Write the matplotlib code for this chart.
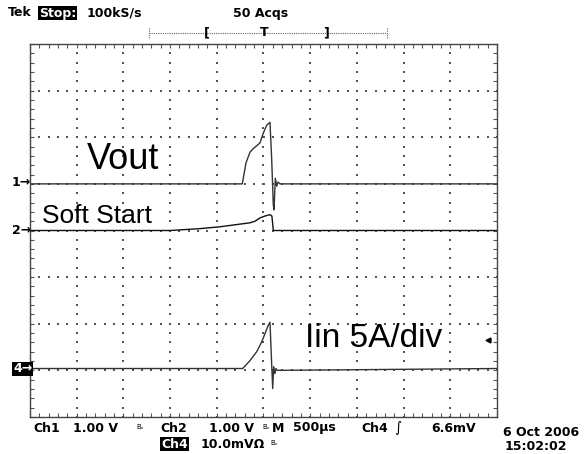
import numpy as np
import matplotlib
matplotlib.use("Agg")
import matplotlib.pyplot as plt

W, H = 587, 454

# traces, in screen divisions (x: -5..5, y: -4..4)
ch1_t = [-5, -0.454, -0.375, -0.289, -0.225, -0.075, -0.004, 0.069, 0.139, 0.176, 0.210, 0.225, 0.253, 0.283, 0.310, 0.353, 5]
ch1_v = [1.0, 1.0, 1.45, 1.68, 1.75, 1.88, 2.09, 2.26, 2.32, 1.51, 0.55, 0.44, 1.12, 0.95, 1.04, 1.0, 1.0]

ch2_t = [-5, -2.0, -1.36, -0.93, -0.29, -0.18, -0.075, 0.03, 0.14, 0.18, 0.21, 5]
ch2_v = [0.0, 0.0, 0.04, 0.08, 0.165, 0.20, 0.27, 0.31, 0.34, 0.31, 0.0, 0.0]

ch4_t = [-5, -0.445, -0.289, -0.146, -0.039, 0.032, 0.103, 0.139, 0.176, 0.197, 0.218, 0.246, 0.268, 0.296, 5]
ch4_v = [-2.96, -2.96, -2.79, -2.60, -2.39, -2.21, -2.03, -1.97, -2.89, -3.39, -2.92, -3.07, -2.96, -3.0, -2.96]

labels = ["Vout", "Soft Start", "Iin 5A/div"]
header_left = "100kS/s"
header_acq = "50 Acqs"
footer_1 = ["Ch1", "1.00 V", "Ch2", "1.00 V", "M", "500\u00b5s", "Ch4", "6.6mV"]
footer_2 = "10.0mV\u03a9"
date_txt = ["6 Oct 2006", "15:02:02"]

def P(x, y):
    return x / W, 1 - y / H

fig = plt.figure(figsize=(W / 100, H / 100), dpi=100)
fig.patch.set_facecolor("white")

# screen area
L, T, R, B = 30, 44, 497, 417
ax = fig.add_axes([L / W, 1 - B / H, (R - L) / W, (B - T) / H])
ax.set_xlim(-5, 5)
ax.set_ylim(-4, 4)
for s in ax.spines.values():
    s.set_color("#444")
    s.set_linewidth(1)
ax.set_xticks(np.arange(-5, 5.01, 1))
ax.set_yticks(np.arange(-4, 4.01, 1))
ax.set_xticks(np.arange(-5, 5.01, 0.2), minor=True)
ax.set_yticks(np.arange(-4, 4.01, 0.2), minor=True)
ax.tick_params(which="both", direction="in", length=3, width=0.8, color="#555",
               top=True, right=True, labelbottom=False, labelleft=False)

# dotted graticule
gx, gy = [], []
for xi in range(-4, 5):
    for yy in np.arange(-4, 4.01, 0.2):
        gx.append(xi); gy.append(yy)
for yi in range(-3, 4):
    for xx in np.arange(-5, 5.01, 0.2):
        gx.append(xx); gy.append(yi)
ax.scatter(gx, gy, s=0.7, marker="s", color="#555", linewidths=0)

ax.plot(ch1_t, ch1_v, color="#333", lw=1)
ax.plot(ch2_t, ch2_v, color="#111", lw=1)
ax.plot(ch4_t, ch4_v, color="#333", lw=1)

arial = dict(family="Liberation Sans", va="baseline")
fig.text(*P(87, 169), labels[0], fontsize=26, **arial)
fig.text(*P(42, 223), labels[1], fontsize=19, **arial)
fig.text(*P(305, 347), labels[2], fontsize=24, **arial)
ax.plot([4.8], [-2.35], marker="<", ms=3.5, color="black", clip_on=False)

# channel markers
mono = dict(family="DejaVu Sans", fontsize=9, weight="bold")
fig.text(*P(12, 183), "1\u2192", va="center", **mono)
fig.text(*P(12, 231), "2\u2192", va="center", **mono)
fig.text(*P(13, 369), "4\u2192", va="center", color="white",
         bbox=dict(facecolor="black", edgecolor="none", pad=0.6), **mono)

# header
fig.text(*P(8, 13), "Tek", va="center", **mono)
fig.text(*P(39, 13), "Stop:", va="center", color="white",
         bbox=dict(facecolor="black", edgecolor="none", pad=0.5), **mono)
fig.text(*P(87, 13), header_left, va="center", **mono)
fig.text(*P(233, 13), header_acq, va="center", **mono)
hy = 1 - 33 / H
fig.add_artist(plt.Line2D([149 / W, 387 / W], [hy, hy], transform=fig.transFigure,
                          color="#666", lw=0.8, ls=(0, (1, 1))))
for xb in (149, 387):
    fig.add_artist(plt.Line2D([xb / W, xb / W], [hy - 5 / H, hy + 5 / H],
                              transform=fig.transFigure, color="#666", lw=0.8, ls=(0, (1, 1))))
fig.text(*P(207, 33), "[", ha="center", va="center", **mono)
fig.text(*P(326, 33), "]", ha="center", va="center", **mono)
fig.text(*P(264, 32), "T", ha="center", va="center", **mono)

# footer
fx = [33, 73, 160, 209, 272, 293, 361, 431]
for x, s in zip(fx, footer_1):
    fig.text(*P(x, 428), s, va="center", **mono)
small = dict(family="DejaVu Sans", fontsize=5)
fig.text(*P(136, 427), "B\u1d65", va="center", **small)
fig.text(*P(262, 427), "B\u1d65", va="center", **small)
fig.text(*P(394, 428), "\u222b", va="center", family="DejaVu Sans", fontsize=10, style="italic")
fig.text(*P(161, 444), "Ch4", va="center", color="white",
         bbox=dict(facecolor="black", edgecolor="none", pad=0.5), **mono)
fig.text(*P(201, 444), footer_2, va="center", **mono)
fig.text(*P(270, 443), "B\u1d65", va="center", **small)
fig.text(*P(503, 433), date_txt[0], va="center", **mono)
fig.text(*P(505, 447), date_txt[1], va="center", **mono)

fig.savefig("out.png", dpi=100, facecolor="white")
